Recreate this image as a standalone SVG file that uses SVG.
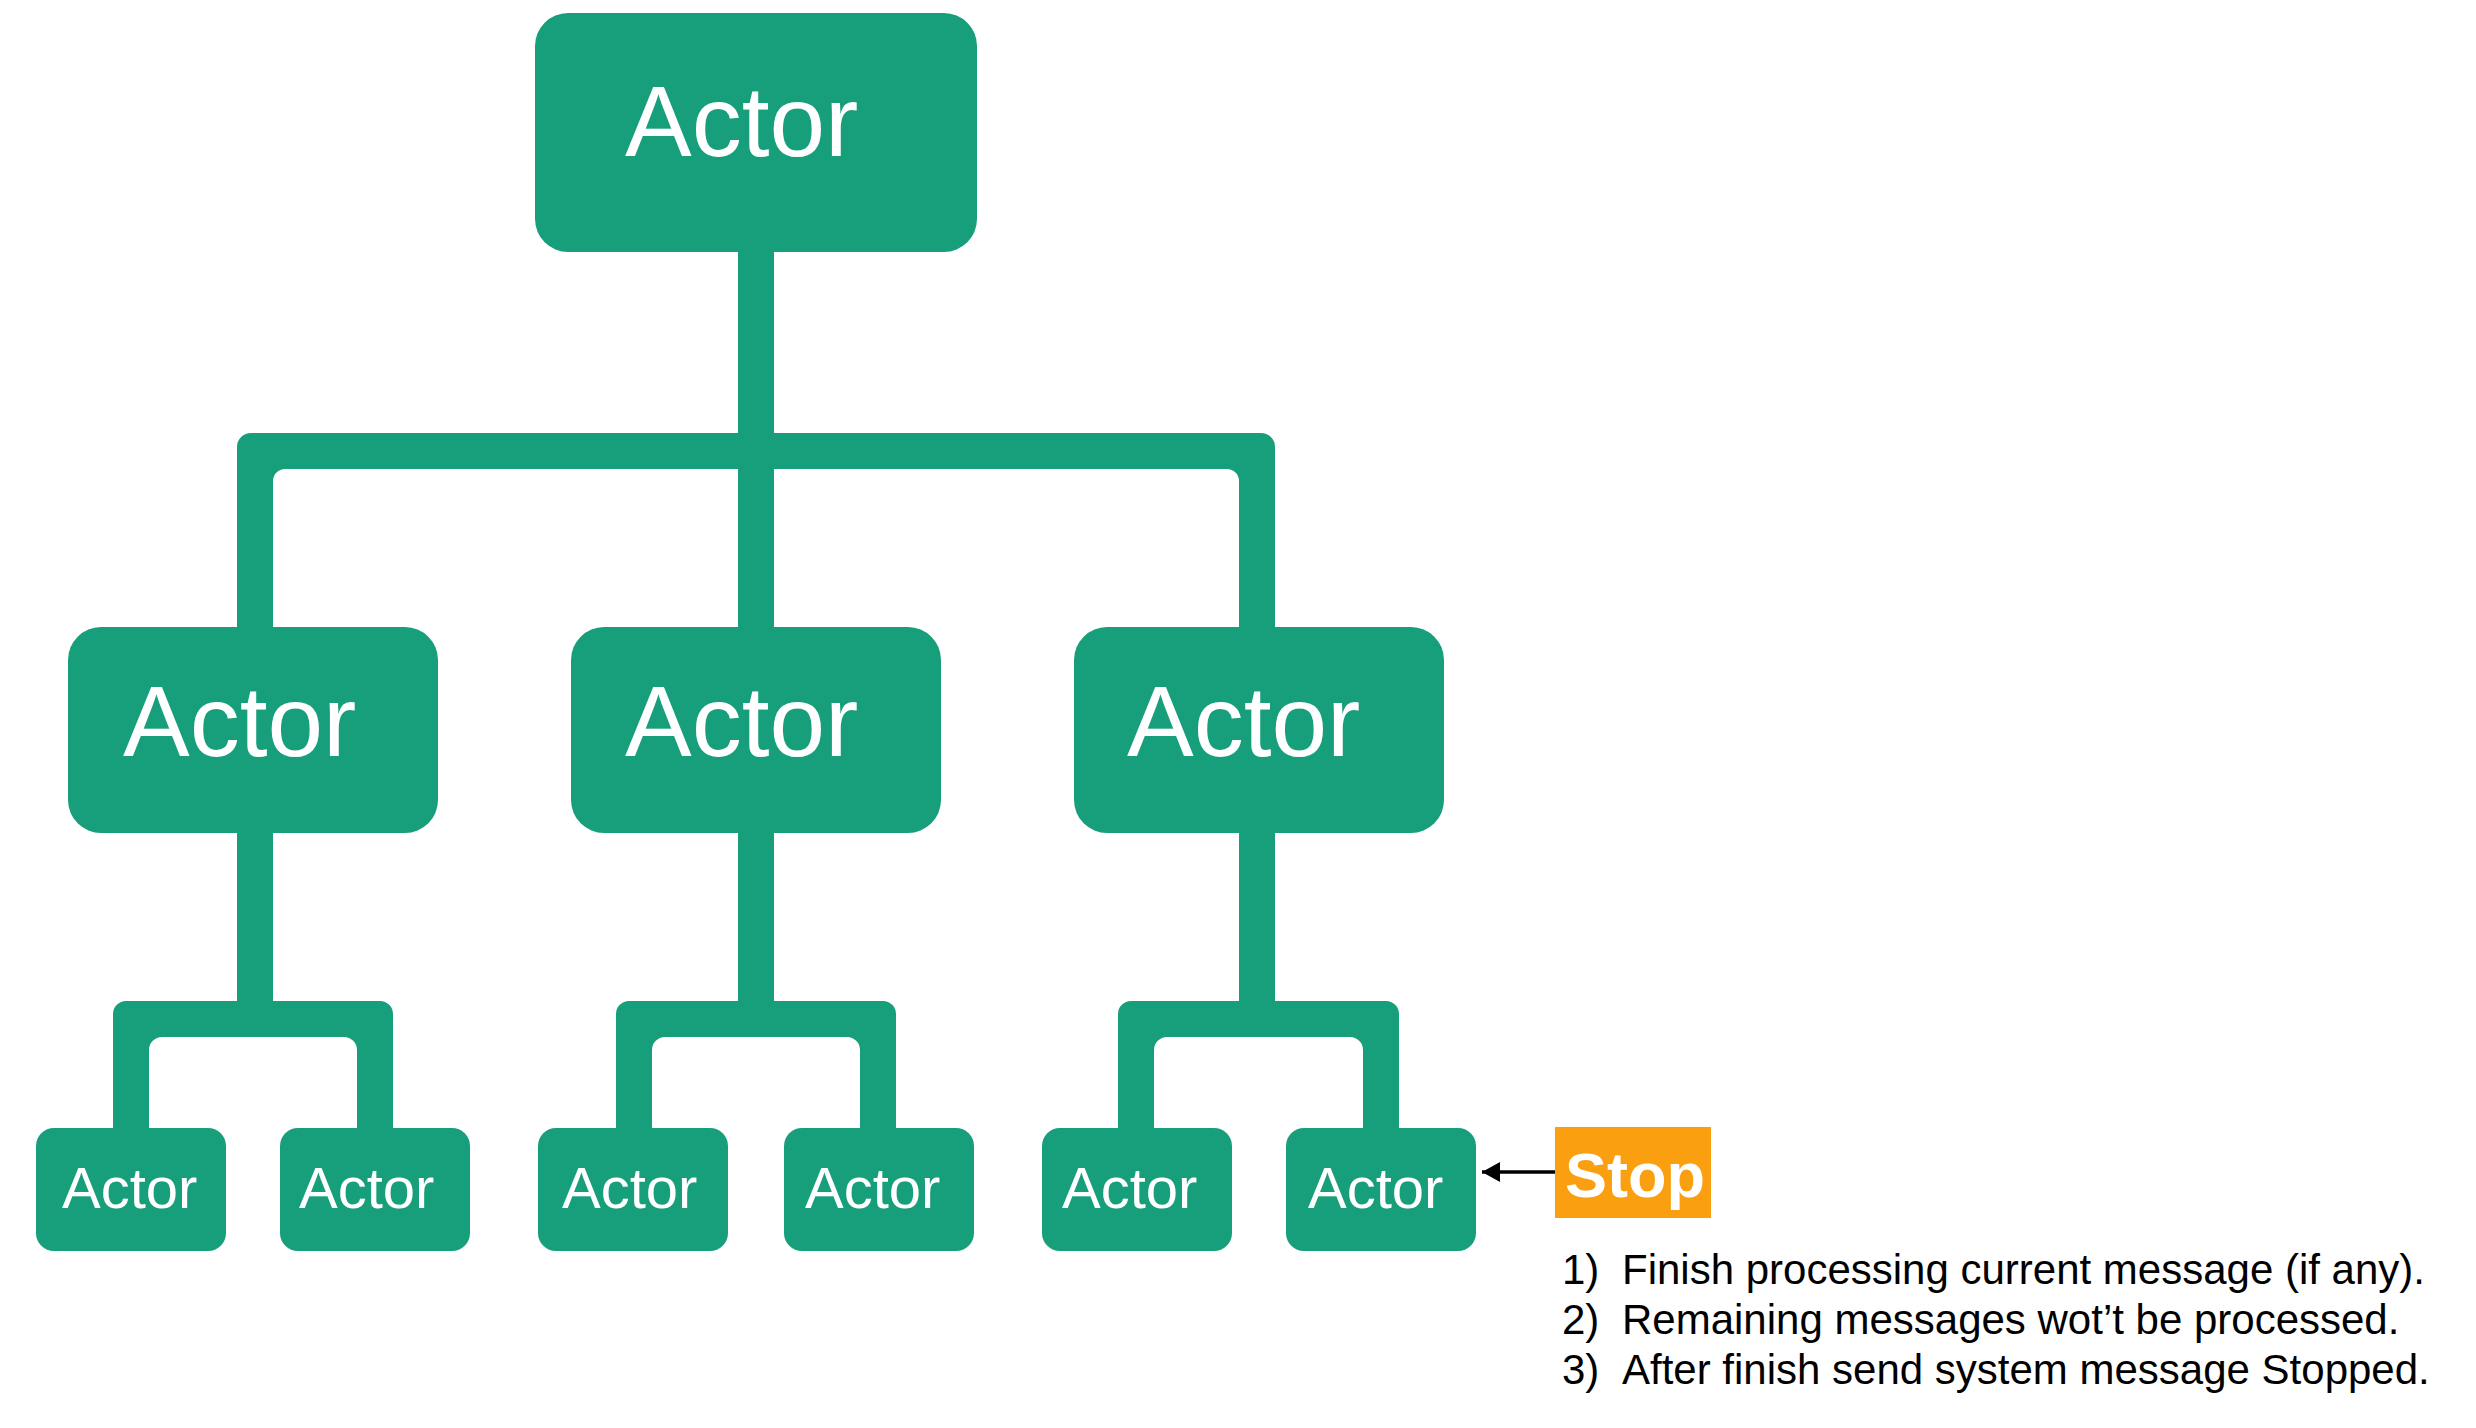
<svg xmlns="http://www.w3.org/2000/svg" width="2476" height="1428" viewBox="0 0 2476 1428">
  <style>
    .box { fill: #179E7B; }
    .wire { fill: #179E7B; }
    .lbl { fill: #ffffff; font-family: "Liberation Sans", Arial, Helvetica, sans-serif; }
    .big { font-size: 100px; }
    .small { font-size: 58px; }
    .stop { fill: #F99F10; }
    .stoplbl { fill: #ffffff; font-family: "Liberation Sans", Arial, Helvetica, sans-serif; font-size: 63px; font-weight: bold; }
    .note { fill: #000000; font-family: "Liberation Sans", Arial, Helvetica, sans-serif; font-size: 42px; }
    .arrow { stroke: #000000; stroke-width: 3.5; fill: none; }
  </style>
  <defs>
    <marker id="head" markerUnits="userSpaceOnUse" markerWidth="20" markerHeight="22" refX="18" refY="11" orient="auto">
      <path d="M0,1 L18,11 L0,21 Z" fill="#000000"/>
    </marker>
  </defs>

  <!-- tree wiring: stems and bracket shapes -->
  <g id="connectors">
    <!-- root stem -->
    <rect class="wire" x="738" y="240" width="36" height="200"/>
    <!-- top bracket joining the three mid-level actors -->
    <path class="wire" d="M237,640 V447 A14,14 0 0 1 251,433 H1261 A14,14 0 0 1 1275,447 V640 H1239 V481 A12,12 0 0 0 1227,469 H285 A12,12 0 0 0 273,481 V640 Z"/>
    <rect class="wire" x="738" y="460" width="36" height="180"/>

    <!-- left subtree -->
    <rect class="wire" x="237" y="820" width="36" height="190"/>
    <path class="wire" d="M113,1140 V1014 A13,13 0 0 1 126,1001 H380 A13,13 0 0 1 393,1014 V1140 H357 V1050 A13,13 0 0 0 344,1037 H162 A13,13 0 0 0 149,1050 V1140 Z"/>

    <!-- middle subtree -->
    <rect class="wire" x="738" y="820" width="36" height="190"/>
    <path class="wire" d="M616,1140 V1014 A13,13 0 0 1 629,1001 H883 A13,13 0 0 1 896,1014 V1140 H860 V1050 A13,13 0 0 0 847,1037 H665 A13,13 0 0 0 652,1050 V1140 Z"/>

    <!-- right subtree -->
    <rect class="wire" x="1239" y="820" width="36" height="190"/>
    <path class="wire" d="M1118,1140 V1014 A13,13 0 0 1 1131,1001 H1386 A13,13 0 0 1 1399,1014 V1140 H1363 V1050 A13,13 0 0 0 1350,1037 H1167 A13,13 0 0 0 1154,1050 V1140 Z"/>

    <!-- stop message arrow -->
    <line class="arrow" x1="1555" y1="1172" x2="1482" y2="1172" marker-end="url(#head)"/>
  </g>

  <!-- root actor -->
  <g id="root">
    <rect class="box" x="535" y="13" width="442" height="239" rx="33"/>
    <text class="lbl big" x="625" y="156">Actor</text>
  </g>

  <!-- mid-level actors -->
  <g id="mid-left">
    <rect class="box" x="68" y="627" width="370" height="206" rx="33"/>
    <text class="lbl big" x="123" y="756">Actor</text>
  </g>
  <g id="mid-center">
    <rect class="box" x="571" y="627" width="370" height="206" rx="33"/>
    <text class="lbl big" x="625" y="756">Actor</text>
  </g>
  <g id="mid-right">
    <rect class="box" x="1074" y="627" width="370" height="206" rx="33"/>
    <text class="lbl big" x="1127" y="756">Actor</text>
  </g>

  <!-- leaf actors -->
  <g id="leaf-1">
    <rect class="box" x="36" y="1128" width="190" height="123" rx="18"/>
    <text class="lbl small" x="62" y="1208">Actor</text>
  </g>
  <g id="leaf-2">
    <rect class="box" x="280" y="1128" width="190" height="123" rx="18"/>
    <text class="lbl small" x="299" y="1208">Actor</text>
  </g>
  <g id="leaf-3">
    <rect class="box" x="538" y="1128" width="190" height="123" rx="18"/>
    <text class="lbl small" x="562" y="1208">Actor</text>
  </g>
  <g id="leaf-4">
    <rect class="box" x="784" y="1128" width="190" height="123" rx="18"/>
    <text class="lbl small" x="805" y="1208">Actor</text>
  </g>
  <g id="leaf-5">
    <rect class="box" x="1042" y="1128" width="190" height="123" rx="18"/>
    <text class="lbl small" x="1062" y="1208">Actor</text>
  </g>
  <g id="leaf-6">
    <rect class="box" x="1286" y="1128" width="190" height="123" rx="18"/>
    <text class="lbl small" x="1308" y="1208">Actor</text>
  </g>

  <!-- stop message -->
  <g id="stop">
    <rect class="stop" x="1555" y="1127" width="156" height="91"/>
    <text class="stoplbl" x="1565" y="1197">Stop</text>
  </g>

  <!-- notes on stop behaviour -->
  <g id="notes">
    <text class="note" x="1562" y="1284">1)</text>
    <text class="note" x="1622" y="1284">Finish processing current message (if any).</text>
    <text class="note" x="1562" y="1334">2)</text>
    <text class="note" x="1622" y="1334">Remaining messages wot’t be processed.</text>
    <text class="note" x="1562" y="1384">3)</text>
    <text class="note" x="1622" y="1384">After finish send system message Stopped.</text>
  </g>
</svg>
